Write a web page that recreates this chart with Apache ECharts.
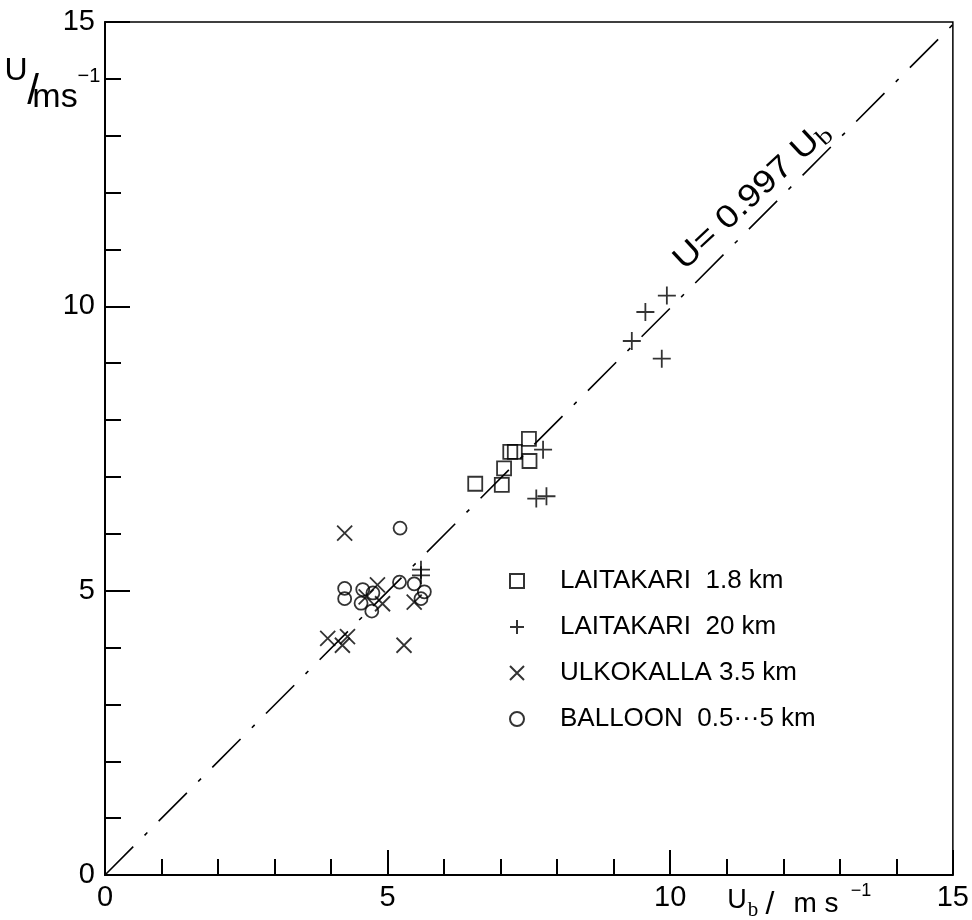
<!DOCTYPE html>
<html>
<head>
<meta charset="utf-8">
<script src="https://cdn.jsdelivr.net/npm/echarts@6/dist/echarts.min.js"></script>
<style>
html, body { margin: 0; padding: 0; background: #fff; }
#chart { width: 972px; height: 920px; }
</style>
</head>
<body>
<div id="chart"></div>
<script>
// measured points [Ub, U]
const laitakari18 = [[6.55, 6.88], [7.02, 6.86], [7.06, 7.15], [7.17, 7.44], [7.25, 7.44], [7.50, 7.67], [7.51, 7.28]];
const laitakari20 = [[5.59, 5.37], [5.59, 5.27], [7.63, 6.62], [7.81, 6.66], [7.75, 7.48], [9.32, 9.39], [9.56, 9.90], [9.94, 10.19], [9.85, 9.08]];
const ulkokalla = [[4.24, 6.01], [3.94, 4.16], [4.29, 4.19], [4.20, 4.04], [5.29, 4.04], [4.82, 5.10], [4.62, 4.89], [4.91, 4.77], [5.47, 4.80]];
const balloon = [[5.22, 6.10], [4.24, 5.04], [4.24, 4.86], [4.56, 5.02], [4.53, 4.78], [4.74, 4.96], [4.72, 4.64], [5.21, 5.15], [5.47, 5.12], [5.65, 4.98], [5.59, 4.86]];
const seriesNames = ['LAITAKARI  1.8 km', 'LAITAKARI  20 km', 'ULKOKALLA 3.5 km', 'BALLOON  0.5···5 km'];
// fitted line U = 0.997 Ub
const fitSlope = 0.997;
const fitRange = [0, 15];
const axisRange = { min: 0, max: 15, interval: 5 };

const FONT = 'Liberation Sans, Arial, Helvetica, sans-serif';
const SQUARE = 'path://M0,0L20,0L20,20L0,20Z';
const PLUS = 'path://M10,0L10,20M0,10L20,10';
const CROSS = 'path://M0,0L20,20M20,0L0,20';

const hollow = {
    color: 'rgba(0,0,0,0)',
    borderColor: '#000',
    borderWidth: 1.8
};

function scatter(name, data, symbol, size) {
    return {
        name: name,
        type: 'scatter',
        data: data,
        symbol: symbol,
        symbolSize: size,
        itemStyle: hollow,
        emphasis: { disabled: true },
        z: 3
    };
}

function axis(labelMargin) {
    return {
        type: 'value',
        min: axisRange.min,
        max: axisRange.max,
        interval: axisRange.interval,
        axisLine: { show: true, onZero: false, lineStyle: { color: '#000', width: 2 } },
        axisTick: { show: true, inside: true, length: 25, lineStyle: { color: '#000', width: 2 } },
        minorTick: { show: true, splitNumber: 5, length: 16, lineStyle: { color: '#000', width: 2 } },
        axisLabel: { color: '#000', fontFamily: FONT, fontSize: 29, margin: labelMargin },
        splitLine: { show: false }
    };
}

function label(text, x, y, font, extra) {
    return Object.assign({
        type: 'text', x: x, y: y,
        style: { text: text, font: font, fill: '#000', textAlign: 'center', textVerticalAlign: 'middle' }
    }, extra || {});
}

const chart = echarts.init(document.getElementById('chart'));

chart.setOption({
    backgroundColor: '#fff',
    animation: false,
    grid: {
        left: 105, right: 15, top: 22, bottom: 45,
        show: true, borderColor: '#000', borderWidth: 1.5, backgroundColor: 'transparent'
    },
    xAxis: axis(8),
    yAxis: axis(10),
    legend: {
        orient: 'vertical',
        left: 504,
        top: 563,
        itemWidth: 76,
        itemHeight: 14,
        itemGap: 20,
        selectedMode: false,
        textStyle: { color: '#000', fontFamily: FONT, fontSize: 26, lineHeight: 25 },
        data: seriesNames
    },
    graphic: [
        // y axis name
        label('U', 16, 71, '32px ' + FONT),
        label('/', 33, 92, '42px ' + FONT),
        label('ms', 55, 98, '34px ' + FONT),
        label('−1', 89, 76, '20px ' + FONT),
        // x axis name
        label('U', 737, 901, '27px ' + FONT),
        label('b', 753, 910, '21px Liberation Serif, serif'),
        label('/', 770, 905, '32px ' + FONT),
        label('m s', 816, 904, '28px ' + FONT),
        label('−1', 861, 891, '18px ' + FONT),
        // fit label
        {
            type: 'text', x: 752, y: 196, rotation: Math.PI * 43 / 180, scaleX: 1.15,
            style: {
                text: 'U= 0.997 U{b|b}',
                font: '32px ' + FONT,
                fill: '#000',
                textAlign: 'center',
                textVerticalAlign: 'middle',
                rich: { b: { fontFamily: 'Liberation Serif, serif', fontSize: 24, padding: [14, 0, 0, 0] } }
            }
        }
    ],
    series: [
        {
            name: 'fit',
            type: 'line',
            data: fitRange.map(x => [x, fitSlope * x]),
            showSymbol: false,
            symbol: 'none',
            lineStyle: { color: '#000', width: 1.6, type: [40, 16, 4, 16] },
            emphasis: { disabled: true },
            z: 2
        },
        scatter(seriesNames[0], laitakari18, SQUARE, 14),
        scatter(seriesNames[1], laitakari20, PLUS, 18),
        scatter(seriesNames[2], ulkokalla, CROSS, 15),
        scatter(seriesNames[3], balloon, 'circle', 13)
    ]
});
</script>
</body>
</html>
